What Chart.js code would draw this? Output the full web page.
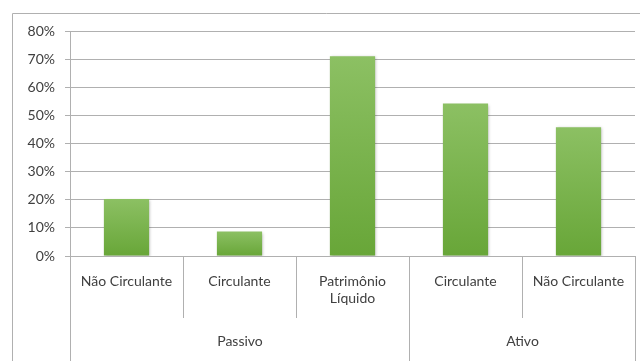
<!DOCTYPE html>
<html>
<head>
<meta charset="utf-8">
<script src="https://cdn.jsdelivr.net/npm/chart.js@4/dist/chart.umd.min.js"></script>
<style>
  html, body { margin: 0; padding: 0; background: #ffffff; }
  #wrap { width: 640px; height: 361px; position: relative; overflow: hidden; }
</style>
</head>
<body>
<div id="wrap"><canvas id="c" width="640" height="361"></canvas></div>
<script>
// Balance-sheet structure, as shares of each side (%)
const categories = [['Não Circulante'], ['Circulante'], ['Patrimônio', 'Líquido'], ['Circulante'], ['Não Circulante']];
const shares = [20.3, 8.7, 71.0, 54.2, 45.8];
const groups = ['Passivo', 'Ativo'];
const groupSizes = [3, 2];
const yTicks = [0, 10, 20, 30, 40, 50, 60, 70, 80];

const FONT = 'Lato, "Open Sans", "Liberation Sans", sans-serif';
const SIZE = 14;
const TEXT = '#404040';
const LINE = '#b0b0b0';

// Per-bar vertical gradient, light at the top, darker at the base
function barFill(ctx) {
  const chart = ctx.chart;
  const y = chart.scales.y;
  if (!y || !ctx.parsed) return '#7db352';
  const top = y.getPixelForValue(ctx.parsed.y);
  const bottom = y.getPixelForValue(0);
  if (!isFinite(top) || !isFinite(bottom) || top === bottom) return '#7db352';
  const g = chart.ctx.createLinearGradient(0, top, 0, bottom);
  g.addColorStop(0, '#8cc063');
  g.addColorStop(1, '#68a638');
  return g;
}

// Frame, category separators and the group row under the axis
const frame = {
  id: 'frame',
  beforeDatasetsDraw(chart) {
    const c = chart.ctx;
    c.save();
    c.shadowColor = 'rgba(0,0,0,0.28)';
    c.shadowBlur = 3;
    c.shadowOffsetX = 1;
    c.shadowOffsetY = 1;
  },
  afterDatasetsDraw(chart) {
    chart.ctx.restore();
  },
  afterDraw(chart) {
    const c = chart.ctx;
    const a = chart.chartArea;
    const x = chart.scales.x;
    const H = chart.height;
    const step = x.getPixelForValue(1) - x.getPixelForValue(0);
    const edge = i => Math.round(x.getPixelForValue(i) - step / 2) + 0.5;
    c.save();
    c.strokeStyle = LINE;
    c.lineWidth = 1;
    // outer frame
    c.beginPath();
    c.moveTo(12.5, H + 2);
    c.lineTo(12.5, 13.5);
    c.lineTo(chart.width + 2, 13.5);
    c.stroke();
    // separators: short between subcategories, full height between groups
    const groupEdges = new Set([0]);
    let acc = 0;
    groupSizes.forEach(n => { acc += n; groupEdges.add(acc); });
    for (let i = 0; i <= categories.length; i++) {
      const px = edge(i);
      const full = groupEdges.has(i);
      c.beginPath();
      c.moveTo(px, a.bottom);
      c.lineTo(px, full ? H : a.bottom + 62);
      c.stroke();
    }
    // group labels
    c.fillStyle = TEXT;
    c.font = SIZE + 'px ' + FONT;
    c.textAlign = 'center';
    c.textBaseline = 'middle';
    let start = 0;
    groups.forEach((g, k) => {
      const end = start + groupSizes[k];
      const cx = (edge(start) + edge(end)) / 2;
      c.fillText(g, cx, 341);
      start = end;
    });
    c.restore();
  }
};

new Chart(document.getElementById('c'), {
  type: 'bar',
  data: {
    labels: categories,
    datasets: [{
      data: shares,
      backgroundColor: barFill,
      borderWidth: 0,
      categoryPercentage: 1.0,
      barPercentage: 0.4
    }]
  },
  options: {
    responsive: false,
    animation: false,
    devicePixelRatio: 1,
    layout: { padding: { left: 12, top: 31, right: 5, bottom: 0 } },
    plugins: { legend: { display: false }, tooltip: { enabled: false } },
    scales: {
      x: {
        grid: { display: false },
        border: { display: false },
        ticks: {
          color: TEXT,
          font: { family: FONT, size: SIZE, lineHeight: 1.22 },
          padding: 9,
          maxRotation: 0,
          autoSkip: false
        },
        afterFit(s) { s.height = 105; }
      },
      y: {
        min: 0,
        max: 80,
        afterBuildTicks(s) { s.ticks = yTicks.map(v => ({ value: v })); },
        grid: { color: LINE, tickLength: 5, drawTicks: true },
        border: { display: true, color: LINE },
        ticks: {
          color: TEXT,
          font: { family: FONT, size: SIZE },
          padding: 10,
          callback: v => v + '%'
        },
        afterFit(s) { s.width = 58; }
      }
    }
  },
  plugins: [frame]
});
</script>
</body>
</html>
